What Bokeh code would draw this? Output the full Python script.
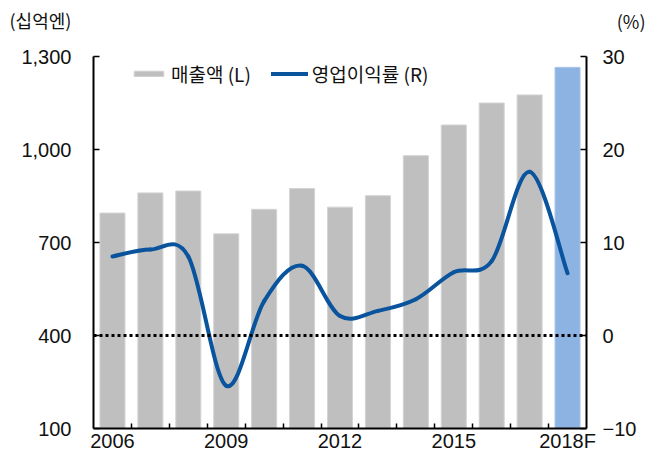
from bokeh.plotting import figure
from bokeh.models import (Range1d, LinearAxis, FixedTicker, NumeralTickFormatter,
                          ColumnDataSource, Span, Label, Legend, LegendItem)
from bokeh.embed import file_html
from bokeh.resources import INLINE

# ---- data ----
years = [2006, 2007, 2008, 2009, 2010, 2011, 2012, 2013, 2014, 2015, 2016, 2017, 2018]
year_labels = ["2006", "2007", "2008", "2009", "2010", "2011", "2012", "2013",
               "2014", "2015", "2016", "2017", "2018F"]
sales = [795, 860, 866, 728, 807, 874, 814, 851, 980, 1079, 1150, 1176, 1265]   # 십억엔 (L)
op_margin = [8.5, 9.25, 8.5, -5.4, 3.7, 7.5, 2.1, 2.65, 3.9, 6.8, 8.0, 17.6, 6.7]  # % (R)
left_ticks = [100, 400, 700, 1000, 1300]
right_ticks = [-10, 0, 10, 20, 30]
x_tick_years = [2006, 2009, 2012, 2015, 2018]

GRAY = "#BFBFBF"
BLUE_BAR = "#8DB3E2"
LINE = "#0A549E"
NUM_FONT = "Liberation Sans"
KR_FONT = "Noto Sans CJK KR"

p = figure(width=650, height=454, output_backend="svg", toolbar_location=None,
           x_range=Range1d(years[0] - 0.5, years[-1] + 0.5),
           y_range=Range1d(100, 1300),
           min_border_left=93, min_border_right=64, min_border_top=56, min_border_bottom=24)
p.extra_y_ranges = {"right": Range1d(-10, 30)}
p.outline_line_color = None
p.xgrid.visible = False
p.ygrid.visible = False
p.background_fill_color = "white"
p.border_fill_color = "white"

# bars
colors = [GRAY] * (len(years) - 1) + [BLUE_BAR]
edges = ["#D3D3D3"] * (len(years) - 1) + ["#A9C6EA"]
src = ColumnDataSource(dict(x=years, top=sales, color=colors, edge=edges))
bars = p.vbar(x="x", top="top", bottom=100, width=0.66, source=src,
              fill_color="color", line_color="edge", line_width=1)

# dotted zero line (right axis)
p.add_layout(Span(location=0, dimension="width", y_range_name="right",
                  line_color="black", line_width=3, line_dash="3 3"))

# smoothed line (Catmull-Rom -> cubic Bezier through the data points)
n = len(years)
x0, y0, x1, y1, cx0, cy0, cx1, cy1 = [], [], [], [], [], [], [], []
for i in range(n - 1):
    im1 = max(i - 1, 0)
    ip2 = min(i + 2, n - 1)
    x0.append(years[i]); y0.append(op_margin[i])
    x1.append(years[i + 1]); y1.append(op_margin[i + 1])
    cx0.append(years[i] + (years[i + 1] - years[im1]) / 6)
    cy0.append(op_margin[i] + (op_margin[i + 1] - op_margin[im1]) / 6)
    cx1.append(years[i + 1] - (years[ip2] - years[i]) / 6)
    cy1.append(op_margin[i + 1] - (op_margin[ip2] - op_margin[i]) / 6)
bsrc = ColumnDataSource(dict(x0=x0, y0=y0, x1=x1, y1=y1, cx0=cx0, cy0=cy0, cx1=cx1, cy1=cy1))
curve = p.bezier(x0="x0", y0="y0", x1="x1", y1="y1", cx0="cx0", cy0="cy0", cx1="cx1", cy1="cy1",
                 source=bsrc, y_range_name="right", line_color=LINE, line_width=4,
                 line_cap="round")

# axes
xa = p.xaxis[0]
xa.ticker = FixedTicker(ticks=x_tick_years, minor_ticks=[y + 0.5 for y in years[:-1]])
xa.major_label_overrides = {y: year_labels[years.index(y)] for y in x_tick_years}
xa.major_tick_in = 0
xa.major_tick_out = 0
xa.minor_tick_in = 5
xa.minor_tick_out = 0
xa.minor_tick_line_color = "black"
xa.minor_tick_line_width = 1.5
xa.major_label_standoff = 1

ya = p.yaxis[0]
ya.ticker = FixedTicker(ticks=left_ticks, minor_ticks=[])
ya.formatter = NumeralTickFormatter(format="0,0")
ya.major_tick_in = 6
ya.major_tick_out = 0
ya.minor_tick_in = 0
ya.minor_tick_out = 0
ya.major_label_standoff = 22

ra = LinearAxis(y_range_name="right")
ra.ticker = FixedTicker(ticks=right_ticks, minor_ticks=[])
ra.major_label_overrides = {-10: "\u221210"}
ra.major_tick_in = 6
ra.major_tick_out = 0
ra.minor_tick_in = 0
ra.minor_tick_out = 0
ra.major_label_standoff = 16
p.add_layout(ra, "right")

for ax in (xa, ya, ra):
    ax.axis_line_width = 2
    ax.axis_line_color = "black"
    ax.major_tick_line_color = "black"
    ax.major_tick_line_width = 1.5
    ax.major_label_text_font = NUM_FONT
    ax.major_label_text_font_size = "20px"
    ax.major_label_text_color = "#111111"

# unit labels (placed in the top border panel so they are not clipped)
p.add_layout(Label(x=-84, y=37, x_units="screen", y_units="screen", text="(십억엔)",
                   text_font=KR_FONT, text_font_size="18px", text_color="#111111",
                   text_baseline="middle", text_align="left"), "above")
p.add_layout(Label(x=552, y=10, x_units="screen", y_units="screen", text="(%)",
                   text_font=KR_FONT, text_font_size="18px", text_color="#111111",
                   text_baseline="middle", text_align="right"), "above")

# legend
legend = Legend(items=[LegendItem(label="매출액 (L)", renderers=[bars], index=0),
                       LegendItem(label="영업이익률 (R)", renderers=[curve], index=0)],
                orientation="horizontal", location=(37, 341),
                glyph_width=37, glyph_height=7, label_height=20, label_standoff=4,
                spacing=20, padding=0, margin=0, border_line_color=None,
                background_fill_alpha=0, label_text_font=KR_FONT,
                label_text_font_size="19px", label_text_color="#111111")
p.add_layout(legend, "center")

open("out.html", "w").write(file_html(p, INLINE))
